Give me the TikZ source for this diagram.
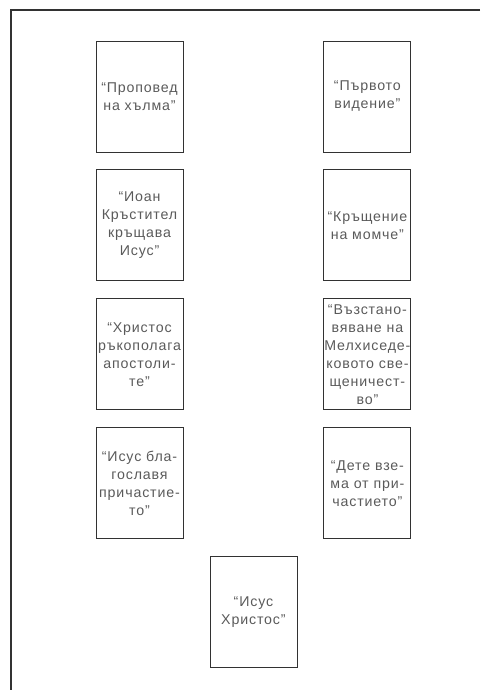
\documentclass[tikz,border=0pt]{standalone}
\usepackage{fontspec}
\setmainfont{Liberation Sans}[LetterSpace=6]
\usetikzlibrary{positioning,calc}
\definecolor{framegray}{RGB}{50,50,50}
\definecolor{textgray}{RGB}{90,90,90}

\begin{document}
\begin{tikzpicture}[x=1pt,y=-1pt,node distance=17pt,
    card/.style={draw=framegray,line width=0.9pt,minimum width=87pt,minimum height=111pt,inner sep=0pt,align=center,text=textgray,font=\fontsize{14.2}{18}\selectfont}]
        \useasboundingbox (0,0) rectangle (480,690);
        \draw[framegray,line width=1.2pt] (480,10) -- (11,10) -- (11,690);
        \node[card] (sermon) at (139.5,96.5) {“Проповед\\на хълма”};
        \node[card,below=of sermon] (baptjesus) {“Иоан\\Кръстител\\кръщава\\Исус”};
        \node[card,below=of baptjesus] (ordain) {“Христос\\ръкополага\\апостоли-\\те”};
        \node[card,below=of ordain] (blesses) {“Исус бла-\\гославя\\причастие-\\то”};
        \node[card,right=140pt of sermon] (vision) {“Първото\\видение”};
        \node[card,below=of vision] (baptboy) {“Кръщение\\на момче”};
        \node[card,below=of baptboy] (restore) {“Възстано-\\вяване на\\Мелхиседе-\\ковото све-\\щеничест-\\во”};
        \node[card,below=of restore] (takes) {“Дете взе-\\ма от при-\\частието”};
        \coordinate (mid) at ($(blesses.south)!0.5!(takes.south)$);
        \node[card,below=of mid] (christ) {“Исус\\Христос”};
      \end{tikzpicture}
\end{document}
